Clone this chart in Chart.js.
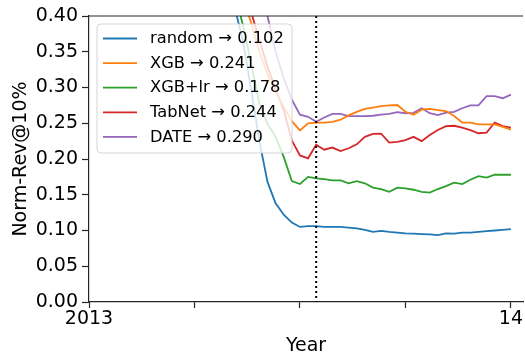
<!DOCTYPE html>
<html>
<head>
<meta charset="utf-8">
<script src="https://cdn.jsdelivr.net/npm/chart.js@4.4.1/dist/chart.umd.min.js"></script>
<style>
  html, body { margin: 0; padding: 0; background: #fff; }
  canvas { display: block; }
</style>
</head>
<body>
<canvas id="c" width="525" height="352"></canvas>
<script>
// Weekly Norm-Rev@10% per model over one year (week index from the start of 2013)
const weeks = [16, 17, 18, 19, 20, 21, 22, 23, 24, 25, 26, 27, 28, 29, 30, 31, 32, 33, 34,
               35, 36, 37, 38, 39, 40, 41, 42, 43, 44, 45, 46, 47, 48, 49, 50, 51, 52];

const modelNames = ['random', 'XGB', 'XGB+lr', 'TabNet', 'DATE'];

const randomRev = [0.52, 0.46, 0.41, 0.364, 0.296, 0.225, 0.168, 0.138, 0.122, 0.111, 0.105, 0.106,
                   0.106, 0.105, 0.105, 0.105, 0.104, 0.103, 0.101, 0.098, 0.0995, 0.098, 0.097,
                   0.096, 0.0955, 0.095, 0.0945, 0.0935, 0.096, 0.0955, 0.097, 0.097, 0.098, 0.099,
                   0.100, 0.101, 0.102];

const xgbRev = [0.56, 0.51, 0.46, 0.425, 0.39, 0.35, 0.319, 0.294, 0.273, 0.253, 0.240, 0.250,
                0.251, 0.251, 0.252, 0.255, 0.261, 0.266, 0.270, 0.272, 0.274, 0.275, 0.2755,
                0.266, 0.262, 0.269, 0.270, 0.2685, 0.267, 0.260, 0.251, 0.251, 0.2485, 0.2485,
                0.2485, 0.245, 0.241];

const xgbLrRev = [0.55, 0.49, 0.43, 0.386, 0.332, 0.278, 0.249, 0.231, 0.203, 0.169, 0.165, 0.175,
                  0.173, 0.172, 0.170, 0.170, 0.166, 0.169, 0.166, 0.160, 0.158, 0.154, 0.160,
                  0.159, 0.157, 0.154, 0.153, 0.158, 0.162, 0.167, 0.165, 0.171, 0.176, 0.174,
                  0.178, 0.178, 0.178];

const tabnetRev = [0.57, 0.52, 0.47, 0.44, 0.405, 0.366, 0.329, 0.298, 0.268, 0.226, 0.205, 0.201,
                   0.220, 0.213, 0.216, 0.211, 0.215, 0.2205, 0.231, 0.235, 0.2355, 0.223, 0.224,
                   0.2265, 0.231, 0.225, 0.2335, 0.2405, 0.246, 0.2465, 0.244, 0.2405, 0.236, 0.237,
                   0.251, 0.246, 0.244];

const dateRev = [0.62, 0.58, 0.54, 0.50, 0.46, 0.45, 0.40, 0.35, 0.313, 0.283, 0.262, 0.259,
                 0.252, 0.258, 0.263, 0.263, 0.260, 0.260, 0.260, 0.2605, 0.262, 0.263, 0.2655,
                 0.264, 0.2645, 0.271, 0.264, 0.2615, 0.265, 0.266, 0.271, 0.275, 0.275, 0.288,
                 0.288, 0.285, 0.290];

const seriesValues = [randomRev, xgbRev, xgbLrRev, tabnetRev, dateRev];
const seriesColors = ['#1f77b4', '#ff7f0e', '#2ca02c', '#d62728', '#9467bd'];

// Tick labels for the quarterly x ticks (week 0 .. week 52)
const xTickWeeks = [0, 13, 26, 39, 52];
const xTickLabels = ['2013', '', '', '', '14'];
const yTicks = [0, 0.05, 0.10, 0.15, 0.20, 0.25, 0.30, 0.35, 0.40];

// Week at which the training / test split happens
const splitWeek = 28;

const FONT = '"DejaVu Sans", "Liberation Sans", sans-serif';
const INK = '#000000';
const SPINE = '#262626';

const datasets = modelNames.map((name, i) => {
  const vals = seriesValues[i];
  const last = vals[vals.length - 1];
  return {
    label: name + ' \u2192 ' + last.toFixed(3),
    data: weeks.map((w, j) => ({ x: w, y: vals[j] })),
    borderColor: seriesColors[i],
    backgroundColor: seriesColors[i],
    borderWidth: 1.8,
    pointRadius: 0,
    tension: 0,
    fill: false
  };
});

// Top spine, dotted split marker
const framePlugin = {
  id: 'frame',
  afterDatasetsDraw(chart) {
    const { ctx, chartArea: a, scales } = chart;
    ctx.save();
    // dotted vertical split line
    const xs = scales.x.getPixelForValue(splitWeek);
    ctx.strokeStyle = INK;
    ctx.lineWidth = 2;
    ctx.setLineDash([2, 3]);
    ctx.beginPath();
    ctx.moveTo(xs, a.top);
    ctx.lineTo(xs, a.bottom);
    ctx.stroke();
    ctx.setLineDash([]);
    // top spine
    ctx.strokeStyle = SPINE;
    ctx.lineWidth = 1.2;
    ctx.beginPath();
    ctx.moveTo(a.left, a.top);
    ctx.lineTo(a.right, a.top);
    ctx.stroke();
    ctx.restore();
  }
};

// Legend box in the upper-left corner of the plot
const legendBoxPlugin = {
  id: 'legendBox',
  afterDraw(chart) {
    const { ctx, chartArea: a } = chart;
    const x0 = a.left + 8, y0 = a.top + 8, w = 195, h = 129, r = 4;
    ctx.save();
    ctx.beginPath();
    ctx.moveTo(x0 + r, y0);
    ctx.lineTo(x0 + w - r, y0);
    ctx.arcTo(x0 + w, y0, x0 + w, y0 + r, r);
    ctx.lineTo(x0 + w, y0 + h - r);
    ctx.arcTo(x0 + w, y0 + h, x0 + w - r, y0 + h, r);
    ctx.lineTo(x0 + r, y0 + h);
    ctx.arcTo(x0, y0 + h, x0, y0 + h - r, r);
    ctx.lineTo(x0, y0 + r);
    ctx.arcTo(x0, y0, x0 + r, y0, r);
    ctx.closePath();
    ctx.fillStyle = 'rgba(255,255,255,0.8)';
    ctx.fill();
    ctx.strokeStyle = 'rgba(204,204,204,0.8)';
    ctx.lineWidth = 1;
    ctx.stroke();

    ctx.font = '16.3px ' + FONT;
    ctx.textBaseline = 'middle';
    ctx.textAlign = 'left';
    chart.data.datasets.forEach((ds, i) => {
      const y = y0 + 14.5 + i * 24.6;
      ctx.strokeStyle = ds.borderColor;
      ctx.lineWidth = 1.8;
      ctx.beginPath();
      ctx.moveTo(x0 + 6, y);
      ctx.lineTo(x0 + 40, y);
      ctx.stroke();
      ctx.fillStyle = INK;
      ctx.fillText(ds.label, x0 + 53, y + 0.5);
    });
    ctx.restore();
  }
};

new Chart(document.getElementById('c'), {
  type: 'line',
  data: { datasets },
  plugins: [framePlugin, legendBoxPlugin],
  options: {
    responsive: false,
    animation: false,
    devicePixelRatio: 1,
    layout: { padding: { top: 16, left: 0, right: 0, bottom: 0 } },
    plugins: { legend: { display: false }, tooltip: { enabled: false } },
    scales: {
      x: {
        type: 'linear',
        min: 0,
        max: 53.5,
        afterFit(s) { s.height = 50; },
        afterBuildTicks(s) { s.ticks = xTickWeeks.map(v => ({ value: v })); },
        ticks: {
          autoSkip: false,
          maxRotation: 0,
          includeBounds: false,
          padding: 2,
          color: INK,
          font: { family: FONT, size: 19, lineHeight: 1 },
          callback(v) {
            const k = xTickWeeks.indexOf(v);
            return k >= 0 ? xTickLabels[k] : '';
          }
        },
        grid: { drawOnChartArea: false, drawTicks: true, tickLength: 6, tickColor: SPINE, tickWidth: 1.2 },
        border: { display: true, color: SPINE, width: 1.2 },
        title: {
          display: true,
          text: 'Year',
          color: INK,
          font: { family: FONT, size: 19, lineHeight: 1 },
          padding: { top: 0, bottom: -3.5 }
        }
      },
      y: {
        min: 0,
        max: 0.4,
        afterFit(s) { s.width = 89; },
        afterBuildTicks(s) { s.ticks = yTicks.map(v => ({ value: v })); },
        ticks: {
          padding: 4,
          color: INK,
          font: { family: FONT, size: 19, lineHeight: 1 },
          callback(v) { return Number(v).toFixed(2); }
        },
        grid: { drawOnChartArea: false, drawTicks: true, tickLength: 7, tickColor: SPINE, tickWidth: 1.2 },
        border: { display: true, color: SPINE, width: 1.2 },
        title: {
          display: true,
          text: 'Norm-Rev@10%',
          color: INK,
          font: { family: FONT, size: 19, lineHeight: 1.2 },
          padding: { top: 10, bottom: 0 }
        }
      }
    }
  }
});
</script>
</body>
</html>
